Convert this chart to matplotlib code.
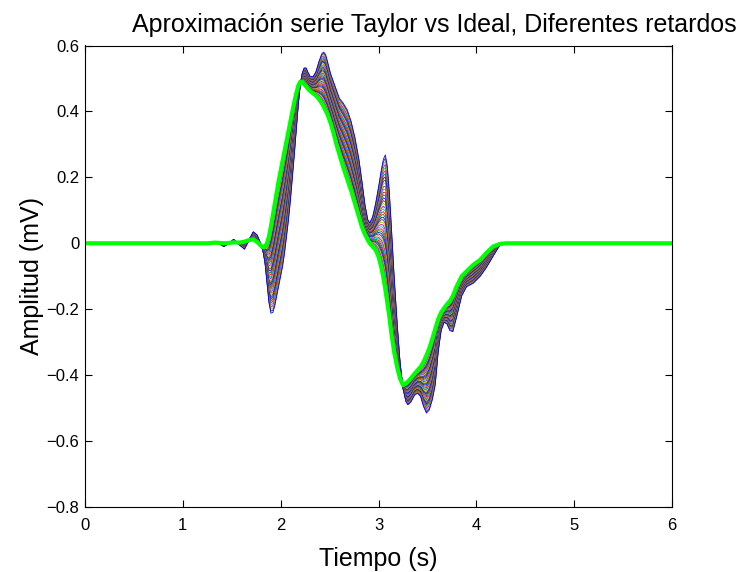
import numpy as np
import matplotlib.pyplot as plt

plt.rcParams['font.family'] = ['Liberation Sans', 'DejaVu Sans']

# Time samples (s)
tiempo = [0.0, 0.5, 1.0, 1.1, 1.18, 1.25, 1.33, 1.42, 1.47, 1.52, 1.58, 1.63,
          1.68, 1.72, 1.76, 1.80, 1.82, 1.84, 1.86, 1.88, 1.90, 1.92, 1.94,
          1.96, 1.98, 2.00, 2.02, 2.04, 2.06, 2.08, 2.10, 2.12, 2.14, 2.16,
          2.18, 2.20, 2.22, 2.24, 2.26, 2.28, 2.30, 2.33, 2.36, 2.39, 2.42,
          2.44, 2.46, 2.48, 2.51, 2.54, 2.57, 2.60, 2.64, 2.68, 2.72, 2.76,
          2.80, 2.83, 2.86, 2.89, 2.91, 2.94, 2.97, 3.00, 3.03, 3.05, 3.07,
          3.09, 3.11, 3.13, 3.16, 3.19, 3.22, 3.25, 3.28, 3.30, 3.33, 3.37,
          3.40, 3.43, 3.46, 3.49, 3.52, 3.55, 3.58, 3.61, 3.64, 3.67, 3.70,
          3.73, 3.76, 3.80, 3.85, 3.90, 3.97, 4.04, 4.10, 4.17, 4.24, 4.30,
          4.5, 5.0, 5.5, 6.0]

# Ideal signal (mV)
ideal = [0.0, 0.0, 0.0, 0.0, 0.0, 0.0, 0.002, 0.0, 0.001, 0.003, 0.002, 0.005,
         0.01, 0.012, 0.004, -0.008, -0.012, -0.01, 0.0, 0.02, 0.05, 0.085, 0.12,
         0.155, 0.19, 0.22, 0.25, 0.28, 0.31, 0.34, 0.37, 0.40, 0.43, 0.455,
         0.478, 0.49, 0.49, 0.483, 0.476, 0.468, 0.462, 0.455, 0.448, 0.438, 0.425,
         0.414, 0.402, 0.39, 0.365, 0.335, 0.30, 0.27, 0.23, 0.195, 0.16, 0.12,
         0.08, 0.05, 0.028, 0.01, 0.0, -0.01, -0.02, -0.04, -0.075, -0.105, -0.14,
         -0.18, -0.22, -0.27, -0.33, -0.375, -0.41, -0.43, -0.425, -0.42, -0.41, -0.395,
         -0.385, -0.375, -0.36, -0.34, -0.318, -0.29, -0.26, -0.23, -0.21, -0.197, -0.185,
         -0.175, -0.16, -0.13, -0.10, -0.085, -0.065, -0.05, -0.03, -0.01, -0.002, 0.0,
         0.0, 0.0, 0.0, 0.0]

# Taylor approximation with the largest delay (mV)
taylor_max = [0.0, 0.0, 0.0, 0.003, -0.004, -0.003, 0.006, -0.01, 0.0, 0.012, -0.005, -0.018,
              0.012, 0.035, 0.025, -0.005, -0.025, -0.06, -0.12, -0.18, -0.212, -0.21, -0.19,
              -0.16, -0.13, -0.10, -0.07, -0.03, 0.02, 0.07, 0.13, 0.20, 0.27, 0.345,
              0.42, 0.48, 0.515, 0.532, 0.532, 0.518, 0.507, 0.505, 0.52, 0.55, 0.575,
              0.58, 0.572, 0.55, 0.515, 0.49, 0.465, 0.44, 0.425, 0.405, 0.37, 0.32,
              0.255, 0.19, 0.12, 0.072, 0.062, 0.08, 0.12, 0.17, 0.225, 0.255, 0.268,
              0.235, 0.16, 0.06, -0.10, -0.24, -0.36, -0.44, -0.48, -0.49, -0.482, -0.46,
              -0.455, -0.465, -0.495, -0.515, -0.505, -0.475, -0.43, -0.33, -0.265, -0.24, -0.245,
              -0.265, -0.268, -0.222, -0.16, -0.132, -0.121, -0.10, -0.075, -0.04, -0.005, 0.0,
              0.0, 0.0, 0.0, 0.0]

retardos = np.arange(1, 44)

colores = [(0, 0, 1), (0, 0.5, 0), (1, 0, 0), (0, 0.75, 0.75),
           (0.75, 0, 0.75), (0.75, 0.75, 0), (0.25, 0.25, 0.25)]

t = np.array(tiempo)
y0 = np.array(ideal)
y1 = np.array(taylor_max)

fig = plt.figure(figsize=(7.41, 5.72), dpi=100)
ax = fig.add_axes([85 / 741, 65 / 572, 587 / 741, 461.5 / 572])

# one curve per delay, then the ideal signal on top
for i, d in enumerate(retardos):
    w = d / retardos.max()
    ax.plot(t, y0 + w * (y1 - y0), color=colores[i % len(colores)], lw=0.6)

ax.plot(t, y0, color=(0, 1, 0), lw=3)

ax.set_xlim(0, 6)
ax.set_ylim(-0.8, 0.6)
ax.set_xticks(range(0, 7))
ax.set_yticks(np.arange(-0.8, 0.61, 0.2))
ax.yaxis.set_major_formatter(
    plt.FuncFormatter(lambda v, p: ('%g' % (round(v, 1) + 0.0)).replace('-', '\u2212')))
ax.tick_params(direction='in', top=True, right=True, length=5, labelsize=12, width=0.8)
ax.tick_params(axis='x', pad=8)
ax.tick_params(axis='y', pad=4)
for s in ax.spines.values():
    s.set_linewidth(0.8)

ax.set_xlabel('Tiempo (s)', fontsize=18, labelpad=10)
ax.set_ylabel('Amplitud (mV)', fontsize=18, labelpad=2)
fig.text(434 / 741, 1 - 31.7 / 572, 'Aproximación serie Taylor vs Ideal, Diferentes retardos',
         ha='center', va='baseline', fontsize=18)

fig.savefig('out.png', dpi=100)
